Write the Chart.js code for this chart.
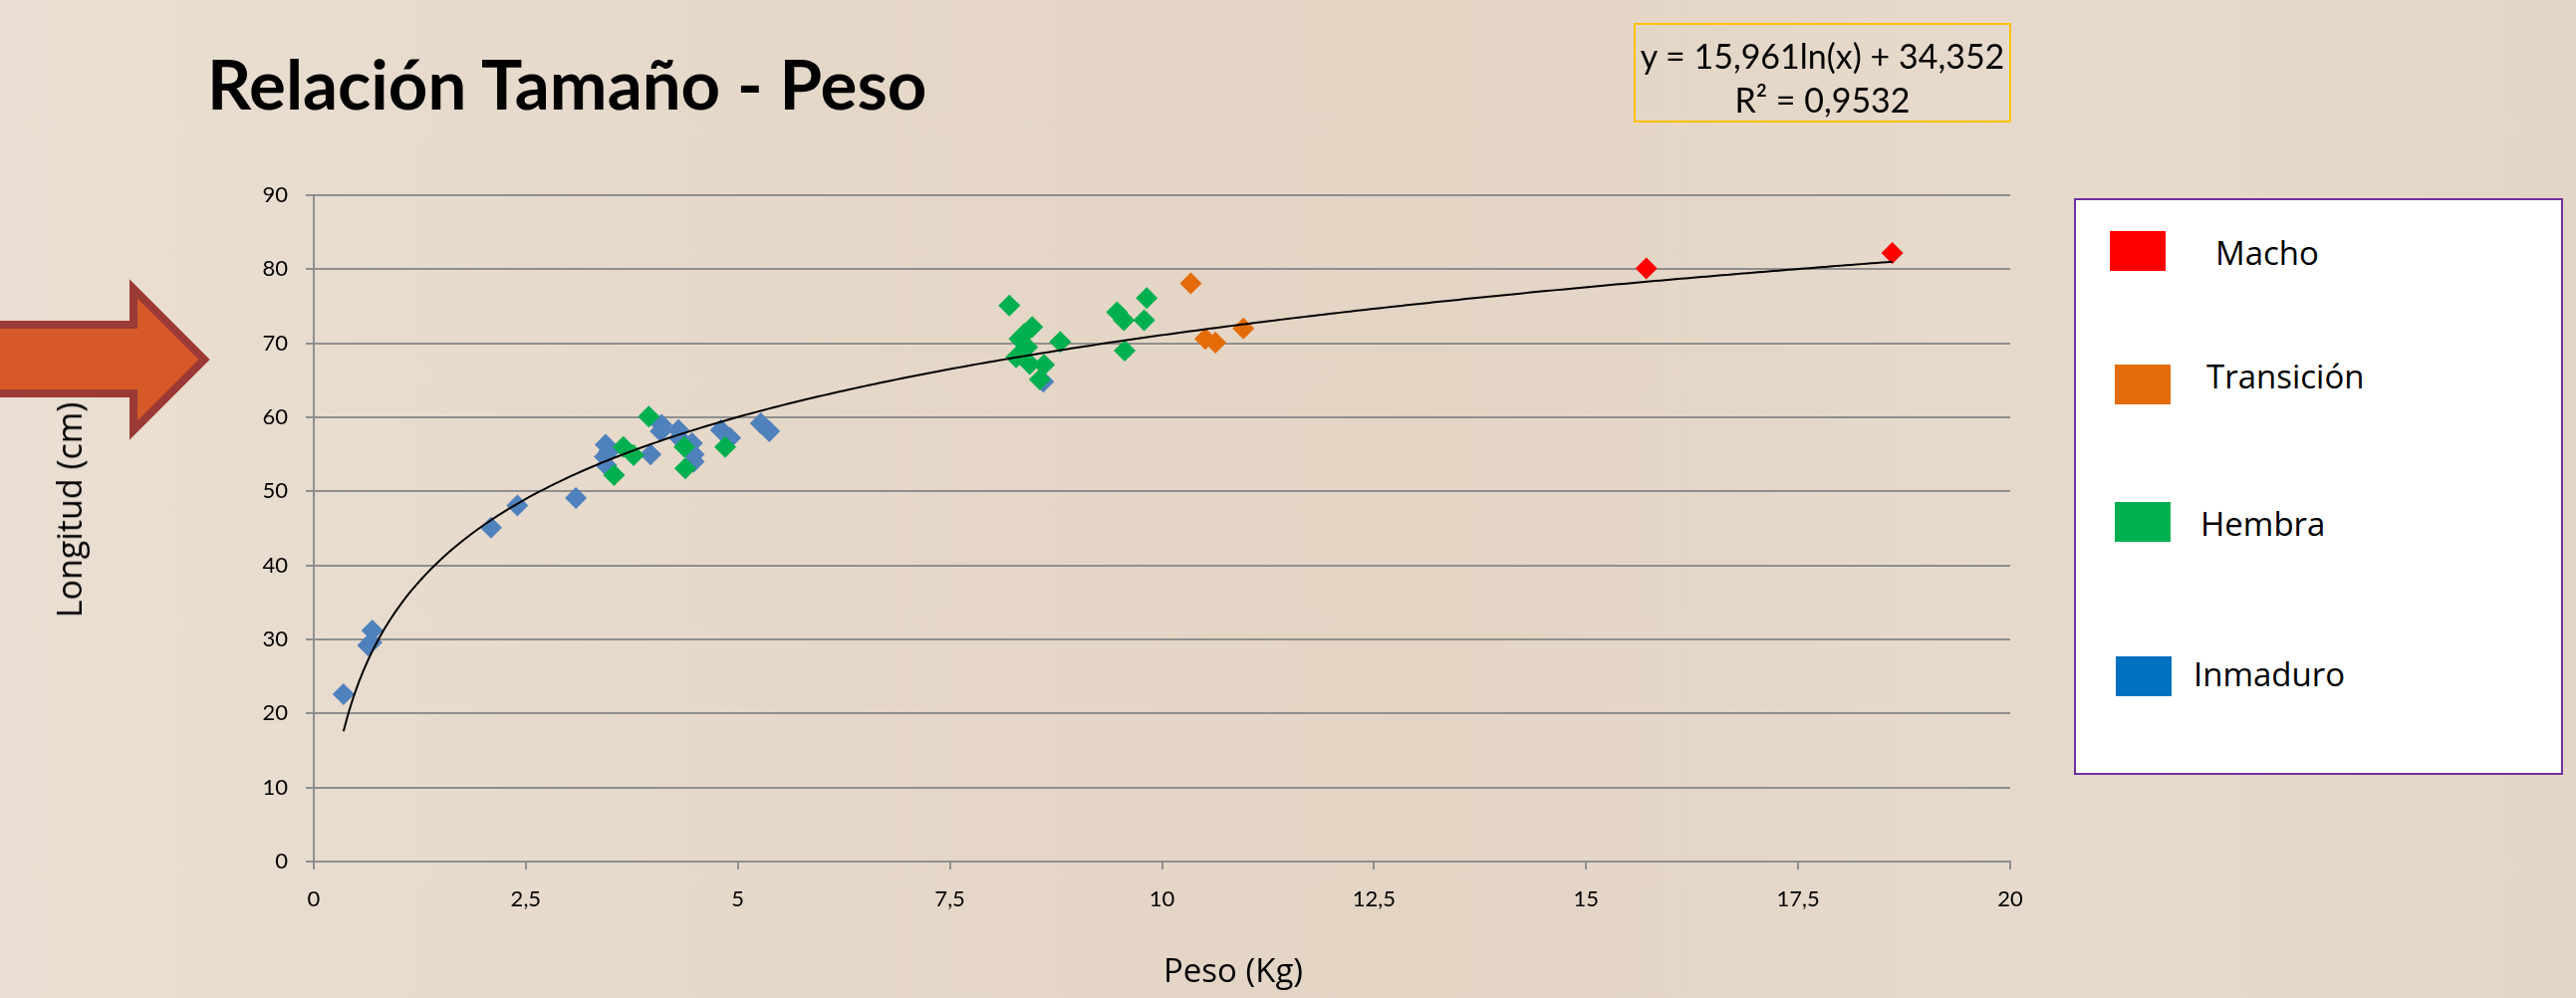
<!DOCTYPE html>
<html>
<head>
<meta charset="utf-8">
<script src="https://cdn.jsdelivr.net/npm/chart.js@4/dist/chart.umd.min.js"></script>
<style>
  html, body { margin: 0; padding: 0; }
  body {
    width: 2586px; height: 1002px; position: relative; overflow: hidden;
    background: linear-gradient(90deg, #eadfd2 0%, #e6d8c9 30%, #e3d4c4 55%, #e7dacc 80%, #e4d6c7 100%);
    font-family: Lato, sans-serif;
  }
  #chart { position: absolute; left: 0; top: 0; }
  .title { position: absolute; left: 208px; top: 42px; font: bold 69px Lato, sans-serif; color: #000; white-space: nowrap; }
  .eqbox {
    position: absolute; left: 1640px; top: 23px; width: 375px;
    border: 2px solid #ffc000; text-align: center; font: 34px Lato, sans-serif; color: #000; line-height: 44px;
    padding-top: 9px; height: 87px;
  }
  .ytitle {
    position: absolute; left: 69px; top: 512px; font: 34px "Open Sans", sans-serif; color: #000;
    transform: translate(-50%, -50%) rotate(-90deg); white-space: nowrap;
  }
  .xtitle {
    position: absolute; left: 1238px; top: 973px; font: 33px "Open Sans", sans-serif; color: #000;
    transform: translate(-50%, -50%); white-space: nowrap;
  }
  .legend {
    position: absolute; left: 2082px; top: 199px; width: 487px; height: 575px;
    border: 2px solid #7030a0; background: #fff;
  }
  .legend .sw { position: absolute; width: 56px; height: 40px; }
  .legend .lb { position: absolute; font: 33px "Open Sans", sans-serif; color: #000; transform: translateY(-50%); white-space: nowrap; }
</style>
</head>
<body>
<canvas id="chart" width="2586" height="1002"></canvas>
<div class="title">Relación Tamaño - Peso</div>
<div class="eqbox">y = 15,961ln(x) + 34,352<br>R² = 0,9532</div>
<div class="ytitle">Longitud (cm)</div>
<div class="xtitle">Peso (Kg)</div>
<div class="legend" id="legend"></div>
<script>
// series names and colours
var seriesNames = ['Macho', 'Transición', 'Hembra', 'Inmaduro'];
var legendColors = ['#ff0000', '#e36c0a', '#00b050', '#0070c0'];
var pointColors = ['#ff0000', '#e36c09', '#00b050', '#4f81bd'];

// peso (kg) / longitud (cm)
var machoX = [15.71, 18.61];
var machoY = [80.1, 82.2];

var transicionX = [10.34, 10.51, 10.63, 10.96];
var transicionY = [78.1, 70.6, 70.1, 72.0];

var hembraX = [3.54, 3.65, 3.77, 3.95, 4.37, 4.38, 4.85, 8.20, 8.47, 8.38, 8.32, 8.41, 8.28, 8.44, 8.61, 8.56, 8.80, 9.47, 9.55, 9.82, 9.79, 9.56];
var hembraY = [52.2, 56.0, 54.9, 60.1, 56.0, 53.1, 56.0, 75.1, 72.2, 71.3, 70.6, 69.5, 68.1, 67.2, 67.1, 65.1, 70.2, 74.2, 73.1, 76.1, 73.1, 69.0];

var inmaduroX = [0.35, 0.64, 0.68, 0.69, 2.09, 2.40, 3.09, 3.44, 3.48, 3.43, 3.45, 3.97, 4.10, 4.09, 4.30, 4.31, 4.46, 4.48, 4.48, 4.80, 4.91, 5.27, 5.37, 8.60];
var inmaduroY = [22.6, 29.2, 29.6, 31.2, 45.1, 48.1, 49.1, 56.3, 55.4, 54.7, 53.5, 55.0, 59.0, 58.1, 58.3, 57.2, 56.5, 55.0, 54.0, 58.3, 57.2, 59.2, 58.1, 64.8];

// logarithmic trend line shown on the chart
var trendA = 15.961;
var trendB = 34.352;

var xTickStep = 2.5;
var yTickStep = 10;

function pts(xs, ys) {
  return xs.map(function (x, i) { return { x: x, y: ys[i] }; });
}

var allX = machoX.concat(transicionX, hembraX, inmaduroX);
var xMin = Math.min.apply(null, allX), xMax = Math.max.apply(null, allX);
var trend = [];
for (var i = 0; i <= 300; i++) {
  var x = xMin + (xMax - xMin) * i / 300;
  trend.push({ x: x, y: trendA * Math.log(x) + trendB });
}

// legend box
var legendPos = [[34, 31, 140, 52], [39, 165, 131, 176], [39, 303, 125, 324], [40, 458, 118, 475]];
var lg = document.getElementById('legend');
seriesNames.forEach(function (n, k) {
  var p = legendPos[k];
  var sw = document.createElement('div');
  sw.className = 'sw';
  sw.style.left = p[0] + 'px'; sw.style.top = p[1] + 'px'; sw.style.background = legendColors[k];
  lg.appendChild(sw);
  var lb = document.createElement('div');
  lb.className = 'lb';
  lb.style.left = p[2] + 'px'; lb.style.top = p[3] + 'px';
  lb.textContent = n;
  lg.appendChild(lb);
});

// block arrow on the left
var arrowPlugin = {
  id: 'arrow',
  beforeDraw: function (chart) {
    var c = chart.ctx;
    c.save();
    c.beginPath();
    c.moveTo(-10, 326); c.lineTo(134, 326); c.lineTo(134, 290);
    c.lineTo(205, 361); c.lineTo(134, 432); c.lineTo(134, 395); c.lineTo(-10, 395);
    c.closePath();
    c.fillStyle = '#d55a27';
    c.fill();
    c.lineWidth = 8;
    c.lineJoin = 'miter';
    c.strokeStyle = '#9c3a36';
    c.stroke();
    c.restore();
  }
};

var gridCol = '#8e8e8e';
var sets = [
  { label: 'Tendencia', data: trend, showLine: true, borderColor: '#000', borderWidth: 2, pointRadius: 0, order: 0, tension: 0 }
];
var xs = [machoX, transicionX, hembraX, inmaduroX];
var ys = [machoY, transicionY, hembraY, inmaduroY];
seriesNames.forEach(function (n, k) {
  sets.push({
    label: n, data: pts(xs[k], ys[k]),
    pointStyle: 'rectRot', pointRadius: 11, pointHoverRadius: 11,
    backgroundColor: pointColors[k], borderColor: pointColors[k], borderWidth: 0,
    order: k + 1
  });
});

new Chart(document.getElementById('chart'), {
  type: 'scatter',
  data: { datasets: sets },
  plugins: [arrowPlugin],
  options: {
    responsive: false,
    devicePixelRatio: 1,
    animation: false,
    layout: { padding: { left: 0, top: 196, right: 568, bottom: 0 } },
    plugins: { legend: { display: false }, tooltip: { enabled: false } },
    scales: {
      x: {
        type: 'linear', min: 0, max: 20,
        afterFit: function (s) { s.height = 137; },
        ticks: {
          stepSize: xTickStep, padding: 17, color: '#000',
          font: { family: 'Lato', size: 22 },
          callback: function (v) { return String(v).replace('.', ','); }
        },
        grid: { drawOnChartArea: false, drawTicks: true, tickLength: 8, color: gridCol, lineWidth: 2 },
        border: { display: true, color: gridCol, width: 2 }
      },
      y: {
        type: 'linear', min: 0, max: 90,
        afterFit: function (s) { s.width = 315; },
        ticks: { stepSize: yTickStep, padding: 18, color: '#000', font: { family: 'Lato', size: 22 } },
        grid: { color: gridCol, lineWidth: 2, tickLength: 8, tickColor: gridCol },
        border: { display: true, color: gridCol, width: 2 }
      }
    }
  }
});
</script>
</body>
</html>
